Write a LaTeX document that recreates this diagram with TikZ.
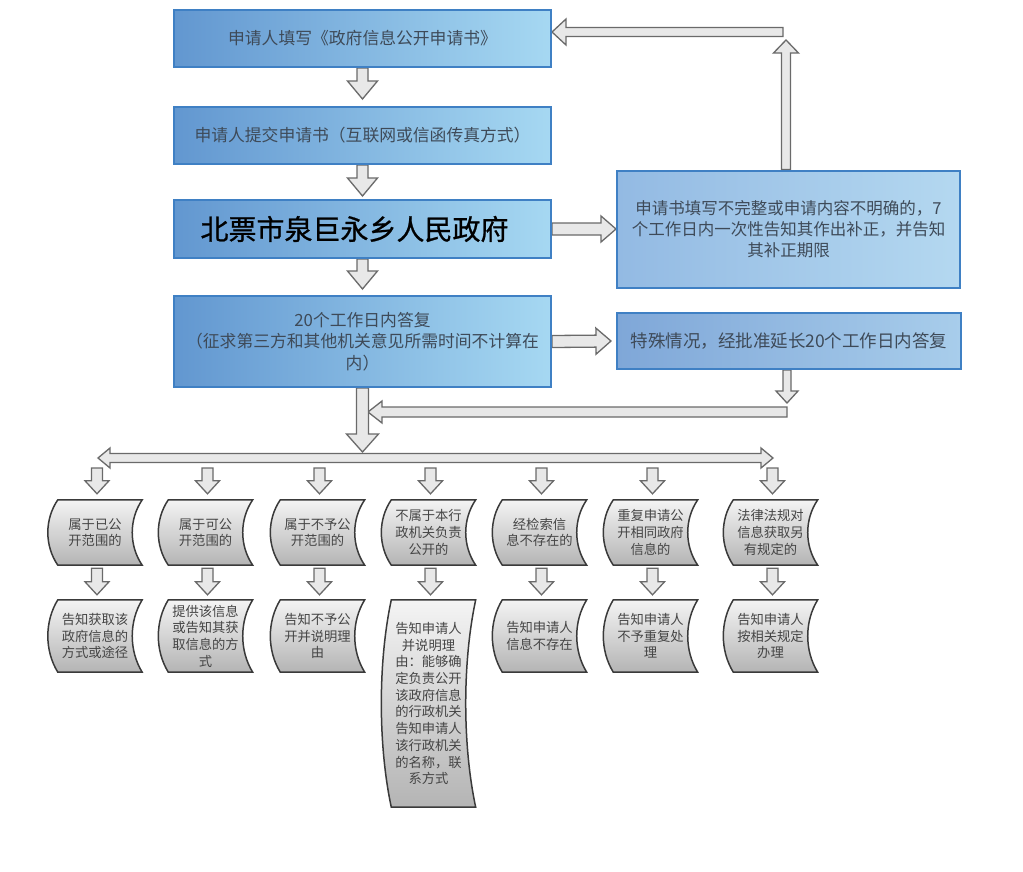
\documentclass[tikz,border=0pt]{standalone}
\usepackage{fontspec}
\setmainfont{Noto Sans CJK SC}
\newfontfamily\cjkheavy[FakeBold=0.8]{Noto Sans CJK SC}
\usetikzlibrary{calc,backgrounds}
\definecolor{boxborder}{HTML}{3F80C4}
\definecolor{blueL}{HTML}{6297D0}
\definecolor{blueR}{HTML}{A6D8F2}
\definecolor{raL}{HTML}{93BAE3}
\definecolor{raR}{HTML}{B4D8F0}
\definecolor{rbL}{HTML}{7FA7D8}
\definecolor{rbR}{HTML}{A8CDEB}
\definecolor{boxtext}{HTML}{3E4A58}
\definecolor{arrowdraw}{HTML}{6A6A6A}
\definecolor{arrowfill}{HTML}{E8E8E8}
\definecolor{scrolldraw}{HTML}{3A3A3A}
\definecolor{scrollT}{HTML}{F4F4F4}
\definecolor{scrollB}{HTML}{B4B4B4}
\definecolor{scrolltext}{HTML}{454545}
\tikzset{
  bluebox/.style={draw=boxborder, line width=2pt, left color=blueL, right color=blueR,
    minimum width=377pt, inner sep=0pt, align=center, text=boxtext,
    font=\fontsize{16.8pt}{21.5pt}\selectfont},
  arrowsty/.style={draw=arrowdraw, line width=1.3pt, fill=arrowfill, line join=miter},
  scrolltxt/.style={inner sep=0pt, minimum width=94pt, align=center,
    font=\fontsize{13.3pt}{16.7pt}\selectfont, text=scrolltext},
  scrollshape/.style={draw=scrolldraw, line width=1.5pt, top color=scrollT, bottom color=scrollB},
}
% hollow block arrow: start, end, half shaft, half head, head length
\newcommand\blockarrow[5]{%
  \begin{pgfonlayer}{background}
  \path[arrowsty]
    ($(#1)!#3pt!90:(#2)$) --
    ($($(#2)!#5pt!(#1)$)!#3pt!90:(#2)$) --
    ($($(#2)!#5pt!(#1)$)!#4pt!90:(#2)$) --
    (#2) --
    ($($(#2)!#5pt!(#1)$)!#4pt!-90:(#2)$) --
    ($($(#2)!#5pt!(#1)$)!#3pt!-90:(#2)$) --
    ($(#1)!#3pt!-90:(#2)$) -- cycle;
  \end{pgfonlayer}}
% double headed hollow arrow
\newcommand\dblarrow[5]{%
  \begin{pgfonlayer}{background}
  \path[arrowsty]
    (#1) --
    ($($(#1)!#5pt!(#2)$)!#4pt!90:(#2)$) --
    ($($(#1)!#5pt!(#2)$)!#3pt!90:(#2)$) --
    ($($(#2)!#5pt!(#1)$)!#3pt!90:(#2)$) --
    ($($(#2)!#5pt!(#1)$)!#4pt!90:(#2)$) --
    (#2) --
    ($($(#2)!#5pt!(#1)$)!#4pt!-90:(#2)$) --
    ($($(#2)!#5pt!(#1)$)!#3pt!-90:(#2)$) --
    ($($(#1)!#5pt!(#2)$)!#3pt!-90:(#2)$) --
    ($($(#1)!#5pt!(#2)$)!#4pt!-90:(#2)$) -- cycle;
  \end{pgfonlayer}}
% scroll shaped box: name, x, y, height, text
\newcommand\scrollbox[5]{%
  \node[scrolltxt, minimum height=#4pt] (#1) at (#2,#3) {#5};
  \begin{pgfonlayer}{background}
  \path[scrollshape] ([xshift=10pt]#1.north west) -- (#1.north east)
    .. controls +(-13.3pt,{-0.3*#4pt}) and +(-13.3pt,{0.3*#4pt}) .. (#1.south east)
    -- ([xshift=10pt]#1.south west)
    .. controls +(-13.3pt,{0.3*#4pt}) and +(-13.3pt,{-0.3*#4pt}) .. ([xshift=10pt]#1.north west)
    -- cycle;
  \end{pgfonlayer}}
\begin{document}
\begin{tikzpicture}[x=1pt,y=-1pt]
\begin{pgfonlayer}{background}
\fill[white] (0,0) rectangle (1023,871);
\end{pgfonlayer}
\useasboundingbox (0,0) rectangle (1023,871);

% main column
\node[bluebox, minimum height=57pt] (b1) at (362.5,38.5) {申请人填写《政府信息公开申请书》};
\node[bluebox, minimum height=57pt] (b2) at (362.5,135.5) {申请人提交申请书（互联网或信函传真方式）};
\node[bluebox, minimum height=58pt, text=black, font=\cjkheavy\fontsize{28pt}{30pt}\selectfont] (b3) at (362.5,229) {北票市泉巨永乡人民政府\hspace*{16pt}};
\node[bluebox, minimum height=91pt] (b4) at (362.5,341.5) {20个工作日内答复\\（征求第三方和其他机关意见所需时间不计算在\\内）};

% right boxes
\node[bluebox, minimum width=343pt, minimum height=117pt, left color=raL, right color=raR,
  font=\fontsize{16.5pt}{21pt}\selectfont] (ra) at (788.5,229)
  {申请书填写不完整或申请内容不明确的，7\\个工作日内一次性告知其作出补正，并告知\\其补正期限};
\node[bluebox, minimum width=344pt, minimum height=56pt, left color=rbL, right color=rbR,
  font=\fontsize{17.5pt}{21pt}\selectfont] (rb) at (789,341)
  {特殊情况，经批准延长20个工作日内答复};

% coordinates for free arrow ends
\coordinate (up1) at (786,40);
\coordinate (rt) at (783,32);
\coordinate (dn1) at (787,403);
\coordinate (rl) at (787,412);
\coordinate (merge) at (368,412);
\coordinate (busTop) at (362.5,452);
\coordinate (busL) at (98,458);
\coordinate (busR) at (773,458);

% main arrows
\blockarrow{b1.south}{[yshift=7pt]b2.north}{5.5}{15}{18}
\blockarrow{b2.south}{[yshift=3pt]b3.north}{5.5}{15}{18}
\blockarrow{b3.south}{[yshift=6pt]b4.north}{5.5}{15}{18}
\blockarrow{b3.east}{ra.west}{6}{13}{15}
\blockarrow{b4.east}{[xshift=-5pt]rb.west}{6}{13}{15}
\blockarrow{[xshift=-2.5pt]ra.north}{up1}{4.5}{12.5}{13}
\blockarrow{rt}{b1.east |- rt}{4.5}{13}{14}
\blockarrow{[xshift=-2pt]rb.south}{dn1}{4}{11}{12}
\blockarrow{rl}{merge}{5}{11}{14}
\blockarrow{b4.south}{busTop}{6}{16}{18}
\dblarrow{busL}{busR}{4.5}{10}{12}

% columns
\scrollbox{t1}{95}{532.5}{65}{属于已公\\开范围的}
\scrollbox{t2}{205.5}{532.5}{65}{属于可公\\开范围的}
\scrollbox{t3}{317.5}{532.5}{65}{属于不予公\\开范围的}
\scrollbox{t4}{428.5}{532.5}{65}{不属于本行\\政机关负责\\公开的}
\scrollbox{t5}{539.5}{532.5}{65}{经检索信\\息不存在的}
\scrollbox{t6}{650.5}{532.5}{65}{重复申请公\\开相同政府\\信息的}
\scrollbox{t7}{770.5}{532.5}{65}{法律法规对\\信息获取另\\有规定的}

\scrollbox{u1}{95}{636}{72}{告知获取该\\政府信息的\\方式或途径}
\scrollbox{u2}{205.5}{636}{72}{提供该信息\\或告知其获\\取信息的方\\式}
\scrollbox{u3}{317.5}{636}{72}{告知不予公\\开并说明理\\由}
\scrollbox{u4}{428.5}{703.5}{207}{告知申请人\\并说明理\\由：能够确\\定负责公开\\该政府信息\\的行政机关\\告知申请人\\该行政机关\\的名称，联\\系方式}
\scrollbox{u5}{539.5}{636}{72}{告知申请人\\信息不存在}
\scrollbox{u6}{650.5}{636}{72}{告知申请人\\不予重复处\\理}
\scrollbox{u7}{770.5}{636}{72}{告知申请人\\按相关规定\\办理}

\foreach \i in {1,...,7} {
  \coordinate (c\i) at ([xshift=2pt]t\i.north |- busL);
  \blockarrow{[yshift=-10pt]c\i}{[xshift=2pt,yshift=6pt]t\i.north}{5.5}{12}{13}
  \blockarrow{[xshift=2pt,yshift=-3pt]t\i.south}{[xshift=2pt,yshift=5pt]u\i.north}{5.5}{12}{13}
}
\end{tikzpicture}
\end{document}
